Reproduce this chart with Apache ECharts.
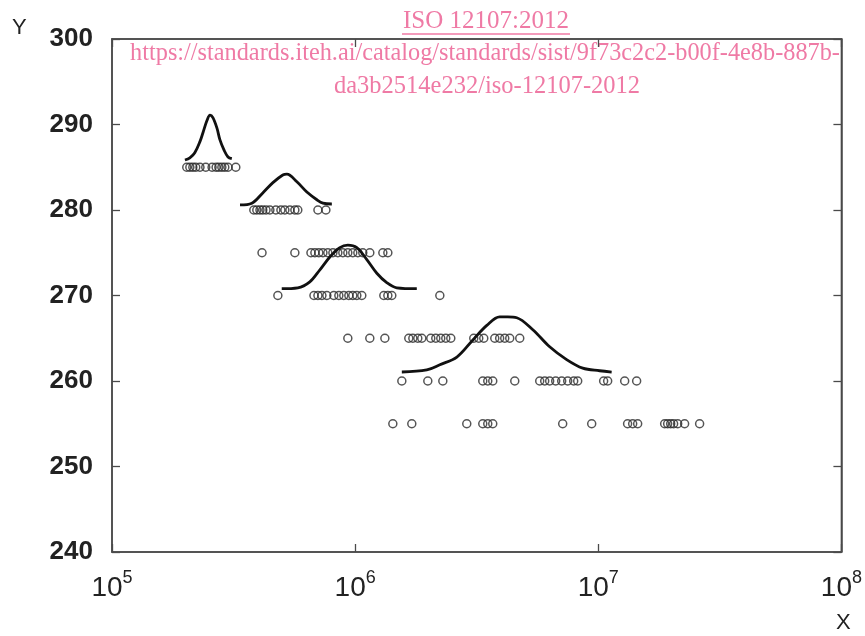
<!DOCTYPE html>
<html><head><meta charset="utf-8">
<script src="https://cdn.jsdelivr.net/npm/echarts@6/dist/echarts.min.js"></script>
<style>html,body{margin:0;padding:0;background:#fff}#c{width:865px;height:636px}</style>
</head><body><div id="c"></div>
<script>
// Y-axis ticks
const yMin = 240, yMax = 300, yStep = 10;
// X-axis decade range (log scale)
const xMin = 1e5, xMax = 1e8;

// Scatter levels and x positions
const levels = [285, 280, 275, 270, 265, 260, 255];
const x285 = [2.03e5, 2.09e5, 2.15e5, 2.21e5, 2.30e5, 2.43e5, 2.58e5, 2.68e5, 2.75e5, 2.83e5, 2.91e5, 3.00e5, 3.23e5];
const x280 = [3.83e5, 3.94e5, 4.06e5, 4.17e5, 4.30e5, 4.46e5, 4.72e5, 4.95e5, 5.14e5, 5.39e5, 5.65e5, 5.81e5, 7.03e5, 7.58e5];
const x275 = [4.14e5, 5.65e5, 6.58e5, 6.83e5, 7.09e5, 7.37e5, 7.72e5, 8.10e5, 8.49e5, 8.90e5, 9.33e5, 9.78e5, 1.026e6, 1.075e6, 1.149e6, 1.300e6, 1.363e6];
const x270 = [4.81e5, 6.77e5, 7.03e5, 7.30e5, 7.65e5, 8.17e5, 8.57e5, 8.98e5, 9.42e5, 9.78e5, 1.016e6, 1.065e6, 1.312e6, 1.363e6, 1.415e6, 2.23e6];
const x265 = [9.33e5, 1.149e6, 1.325e6, 1.662e6, 1.727e6, 1.810e6, 1.880e6, 2.047e6, 2.146e6, 2.250e6, 2.359e6, 2.474e6, 3.075e6, 3.224e6, 3.381e6, 3.752e6, 3.93e6, 4.124e6, 4.323e6, 4.753e6];
const x260 = [1.556e6, 1.990e6, 2.294e6, 3.349e6, 3.511e6, 3.681e6, 4.534e6, 5.743e6, 6.021e6, 6.31e6, 6.681e6, 7.071e6, 7.486e6, 7.924e6, 8.229e6, 1.052e7, 1.093e7, 1.284e7, 1.438e7];
const x255 = [1.429e6, 1.710e6, 2.878e6, 3.349e6, 3.511e6, 3.681e6, 7.139e6, 9.396e6, 1.320e7, 1.385e7, 1.452e7, 1.875e7, 1.929e7, 1.985e7, 2.041e7, 2.121e7, 2.265e7, 2.611e7];
const rows = [x285, x280, x275, x270, x265, x260, x255];

// Distribution curves (x, y)
const c1x = [1.995e5, 2.09e5, 2.19e5, 2.30e5, 2.37e5, 2.46e5, 2.53e5, 2.60e5, 2.70e5, 2.78e5, 2.89e5, 3.00e5, 3.11e5];
const c1y = [285.85, 286.1, 286.7, 288.0, 289.1, 290.5, 291.1, 290.8, 289.6, 288.2, 287.0, 286.2, 286.0];
const c2x = [3.36e5, 3.76e5, 4.17e5, 4.59e5, 5.04e5, 5.24e5, 5.76e5, 6.33e5, 6.96e5, 7.37e5, 8.02e5];
const c2y = [280.6, 280.8, 282.0, 283.2, 284.1, 284.2, 283.3, 282.1, 281.2, 280.8, 280.7];
const c3x = [4.99e5, 5.81e5, 6.51e5, 7.16e5, 7.87e5, 8.65e5, 9.33e5, 1.016e6, 1.117e6, 1.228e6, 1.349e6, 1.483e6, 1.793e6];
const c3y = [270.8, 270.9, 271.6, 273.0, 274.5, 275.6, 275.9, 275.6, 274.2, 272.6, 271.5, 270.9, 270.8];
const c4x = [1.556e6, 1.971e6, 2.23e6, 2.62e6, 3.05e6, 3.48e6, 3.93e6, 4.24e6, 4.62e6, 5.38e6, 6.31e6, 7.41e6, 8.63e6, 1.013e7, 1.135e7];
const c4y = [261.05, 261.3, 261.9, 262.8, 264.8, 266.5, 267.5, 267.5, 267.4, 266.0, 264.0, 262.5, 261.5, 261.2, 261.05];
const curves = [[c1x, c1y], [c2x, c2y], [c3x, c3y], [c4x, c4y]];

// Texts
const titleText = 'ISO 12107:2012';
const urlLine1 = 'https://standards.iteh.ai/catalog/standards/sist/9f73c2c2-b00f-4e8b-887b-';
const urlLine2 = 'da3b2514e232/iso-12107-2012';

const pts = [];
rows.forEach((xs, i) => xs.forEach(x => pts.push([x, levels[i]])));

const frame = '#4a4a4a';
const pink = '#ef7aa5';
const serif = 'Liberation Serif, Times New Roman, serif';
const tickStyle = {show: true, inside: true, length: 8, lineStyle: {color: frame, width: 1.3}};

const chart = echarts.init(document.getElementById('c'));
chart.setOption({
  backgroundColor: '#fff',
  animation: false,
  grid: {left: 112, right: 23, top: 39, bottom: 84, show: true, borderColor: frame, borderWidth: 1.5},
  xAxis: [{
    type: 'log', logBase: 10, min: xMin, max: xMax,
    axisLine: {show: true, lineStyle: {color: frame, width: 1.5}},
    axisTick: tickStyle, splitLine: {show: false}, minorTick: {show: false},
    axisLabel: {
      margin: 17,
      formatter: v => '{b|10}{s|' + Math.round(Math.log10(v)) + '}',
      rich: {
        b: {fontSize: 28, fontFamily: 'Liberation Sans, Arial', color: '#222', verticalAlign: 'bottom'},
        s: {fontSize: 18, fontFamily: 'Liberation Sans, Arial', color: '#222', verticalAlign: 'bottom', padding: [0, 0, 15, 0]}
      }
    }
  }, {
    type: 'log', logBase: 10, min: xMin, max: xMax, position: 'top',
    axisLine: {show: true, lineStyle: {color: frame, width: 1.5}},
    axisTick: tickStyle, axisLabel: {show: false}, splitLine: {show: false}
  }],
  yAxis: [{
    type: 'value', min: yMin, max: yMax, interval: yStep,
    axisLine: {show: true, lineStyle: {color: frame, width: 1.5}},
    axisTick: tickStyle, splitLine: {show: false},
    axisLabel: {margin: 19, fontSize: 26, fontWeight: 'bold', color: '#222', fontFamily: 'Liberation Sans, Arial'}
  }, {
    type: 'value', min: yMin, max: yMax, interval: yStep, position: 'right',
    axisLine: {show: true, lineStyle: {color: frame, width: 1.5}},
    axisTick: tickStyle, axisLabel: {show: false}, splitLine: {show: false}
  }],
  series: [{
    type: 'scatter', data: pts, symbol: 'circle', symbolSize: 8,
    itemStyle: {color: 'rgba(0,0,0,0)', borderColor: '#2a2a2a', borderWidth: 1.5},
    z: 2
  }].concat(curves.map(c => ({
    type: 'line', data: c[0].map((x, i) => [x, c[1][i]]), showSymbol: false, symbol: 'none',
    smooth: 0.35,
    lineStyle: {color: '#111', width: 2.8}, z: 3
  }))),
  graphic: [
    {type: 'text', left: 12, top: 17, style: {text: 'Y', fontSize: 22, fontFamily: 'Liberation Sans, Arial', fill: '#222'}},
    {type: 'text', left: 836, top: 612, style: {text: 'X', fontSize: 22, fontFamily: 'Liberation Sans, Arial', fill: '#222'}},
    {type: 'text', x: 486, y: 21, style: {text: titleText, fontSize: 25, fontFamily: serif, fill: pink, align: 'center', verticalAlign: 'middle'}},
    {type: 'line', shape: {x1: 402, y1: 34, x2: 570, y2: 34}, style: {stroke: pink, lineWidth: 1.3}},
    {type: 'text', x: 485, y: 54, style: {text: urlLine1, fontSize: 24.3, fontFamily: serif, fill: pink, align: 'center', verticalAlign: 'middle'}},
    {type: 'text', x: 487, y: 87, style: {text: urlLine2, fontSize: 24.5, fontFamily: serif, fill: pink, align: 'center', verticalAlign: 'middle'}}
  ]
});
</script></body></html>
